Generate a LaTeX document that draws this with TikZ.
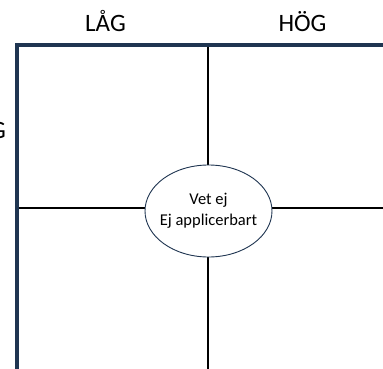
\documentclass[tikz,border=0pt]{standalone}
\usepackage{fontspec}
\setmainfont{Carlito}
\usetikzlibrary{calc,positioning,shapes}
\definecolor{axisblue}{HTML}{1F3551}
\tikzstyle{axis}=[
  draw=axisblue,
  line width=4pt,
  line join=miter,
]
\tikzstyle{divider}=[
  draw=black,
  line width=1.4pt,
]
\tikzstyle{heading}=[
  font={\fontsize{25}{30}\selectfont},
  inner sep=0pt,
  anchor=base,
]
\tikzstyle{centre}=[
  ellipse,
  draw=axisblue,
  fill=white,
  line width=0.9pt,
  minimum width=127pt,
  minimum height=92pt,
  inner xsep=-9pt,
  inner ysep=10pt,
  align=center,
  font={\fontsize{16.5}{21}\selectfont},
]

\begin{document}
\begin{tikzpicture}[x=1pt,y=-1pt]
  \useasboundingbox (0,0) rectangle (383,369);
  %% axes
  \coordinate (corner) at (17,45);
  \coordinate (xend) at (383,45);
  \coordinate (yend) at (17,369);
  \draw [axis] (xend) -- (corner) -- (yend);
  %% headings
  \node (low) [heading] at (105.5,32) {LÅG};
  \node (high) [heading] at (302.5,32) {HÖG};
  \node (side) [heading, anchor=base east] at (6,139) {HÖG};
  %% quadrant dividers
  \coordinate (n) at (208,47);
  \coordinate (s) at (208,369);
  \coordinate (w) at (19,208);
  \coordinate (e) at (383,208);
  \draw [divider] (n) -- (s);
  \draw [divider] (w) -- (e);
  %%
  \node (mid) [centre] at (208.5,211) {Vet ej\\Ej applicerbart};
\end{tikzpicture}
\end{document}
